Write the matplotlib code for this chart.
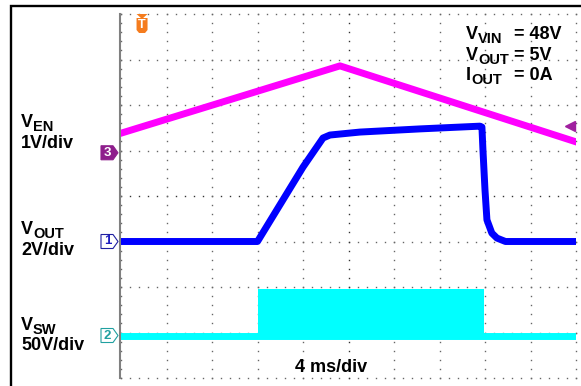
import matplotlib
matplotlib.use('Agg')
import matplotlib.pyplot as plt
import numpy as np
from matplotlib.patches import Polygon, Rectangle

plt.rcParams['font.family'] = ['Liberation Sans', 'DejaVu Sans']

W, H = 581, 386

# scope screen: 10 x 8 divisions, 4 ms/div
ms_per_div = 4
n_hdiv, n_vdiv = 10, 8

# CH3  V_EN, 1 V/div
en_t = [0, 19.25, 40]
en_v = [0.43, 1.91, 0.24]
en_scale, en_gnd = 1.0, 4.95
en_trig = 0.59

# CH1  V_OUT, 2 V/div
out_t = [0, 12.0, 16.0, 17.76, 18.37, 21.0, 26.3, 31.56, 31.73, 31.82, 32.0, 32.17, 32.6, 33.05, 33.8, 40]
out_v = [0, 0, 3.27, 4.55, 4.68, 4.81, 4.95, 5.07, 5.03, 4.02, 2.26, 0.95, 0.37, 0.15, 0, 0]
out_scale, out_gnd = 2.0, 3.0

# CH2  V_SW, 50 V/div (switching burst between on/off)
sw_on, sw_off = 12.0, 31.9
sw_high = 51.0
sw_scale, sw_gnd = 50.0, 0.934

trig_t = 1.85

px_t = ms_per_div / 45.5   # ms per pixel
px_v = 1 / 45.5            # div per pixel

fig = plt.figure(figsize=(W / 100, H / 100), dpi=100)
ax = fig.add_axes([121 / W, (H - 378) / H, 455 / W, 364 / H])
ax.set_xlim(0, n_hdiv * ms_per_div)
ax.set_ylim(0, n_vdiv)
ax.set_axis_off()

# outer frame
fig.add_artist(Rectangle((11 / W, -0.1), 2, 1.1 - 6 / H, transform=fig.transFigure,
                         fill=False, lw=1.7, ec='black'))

# dotted graticule
xs = np.arange(0, n_hdiv + 0.001, 0.2) * ms_per_div
ys = np.arange(0, n_vdiv + 0.001, 0.2)
for v in range(n_vdiv + 1):
    c = '#333333' if v == n_vdiv // 2 else '#666666'
    ax.plot(xs, [v] * len(xs), ls='none', marker='s', ms=1.0, mew=0, color=c, clip_on=False, zorder=1)
for d in range(n_hdiv + 1):
    c = '#333333' if d == n_hdiv // 2 else '#666666'
    ax.plot([d * ms_per_div] * len(ys), ys, ls='none', marker='s', ms=1.0, mew=0, color=c, clip_on=False, zorder=1)
ax.plot([-1.5 * px_t] * 2, [0, n_vdiv], color='#808080', lw=1.5, clip_on=False, zorder=2)

# traces
ax.plot(en_t, en_gnd + np.array(en_v) / en_scale, color='#FF00FF', lw=5, zorder=3)
ax.fill_between([sw_on, sw_off], sw_gnd, sw_gnd + sw_high / sw_scale, color='#00FFFF', lw=0, zorder=3)
ax.plot([0, n_hdiv * ms_per_div], [sw_gnd, sw_gnd], color='#00FFFF', lw=5, zorder=3)
ax.plot(out_t, out_gnd + np.array(out_v) / out_scale, color='#0000FF', lw=5, zorder=4,
        solid_joinstyle='round')

# trigger level arrow (CH3)
ax.plot([39.47], [en_gnd + en_trig / en_scale], marker='<', ms=6.5, color='#A0209F', clip_on=False, zorder=5)


def ch_marker(level, num, ec, fc, tc):
    x0, x1, x2 = -20 * px_t, -8 * px_t, -3 * px_t
    h = 7 * px_v
    pts = [(x0, level - h), (x1, level - h), (x2, level), (x1, level + h), (x0, level + h)]
    ax.add_patch(Polygon(pts, closed=True, fc=fc, ec=ec, lw=0.8, clip_on=False, zorder=5))
    ax.text(x0 + 6.5 * px_t, level, num, color=tc, fontsize=9.5, fontweight='bold',
            ha='center', va='center', clip_on=False, zorder=6)


ch_marker(en_gnd, '3', '#8E1E8C', '#8E1E8C', 'white')
ch_marker(out_gnd, '1', '#2020A0', 'white', '#2020C0')
ch_marker(sw_gnd, '2', '#20A0A0', 'white', '#20A0A0')

# trigger position marker
tx = trig_t
hw = 5.5 * px_t
top = n_vdiv
ax.add_patch(Polygon([(tx - hw, top), (tx + hw, top), (tx, top - 5 * px_v)], closed=True,
                     fc='#F57C1E', ec='none', clip_on=False, zorder=5))
ax.add_patch(Polygon([(tx - hw, top - 4 * px_v), (tx + hw, top - 4 * px_v), (tx + hw, top - 16 * px_v),
                      (tx + 3 * px_t, top - 19 * px_v), (tx - 3 * px_t, top - 19 * px_v), (tx - hw, top - 16 * px_v)],
                     closed=True, fc='#F57C1E', ec='none', clip_on=False, zorder=5))
ax.text(tx, top - 11.5 * px_v, 'T', color='white', fontsize=9, fontweight='bold',
        ha='center', va='center', zorder=6)


def label(x, y, main, sub=None, size=13, subsize=10.5):
    t = fig.text(x / W, 1 - y / H, main, fontsize=size, fontweight='bold', va='baseline', ha='left')
    if sub:
        ax.annotate(sub, xy=(1, 0), xycoords=t, fontsize=subsize, fontweight='bold',
                    va='baseline', ha='left', annotation_clip=False)


label(21, 127, 'V', 'EN')
label(21, 148, '1V/div')
label(21, 234, 'V', 'OUT')
label(21, 255, '2V/div')
label(21, 330, 'V', 'SW')
label(21, 350, '50V/div')
label(295, 372, '4 ms/div')

label(466, 39, 'V', 'VIN')
label(514, 39, '= 48V')
label(466, 60, 'V', 'OUT')
label(514, 60, '= 5V')
label(466, 80, 'I', 'OUT')
label(514, 80, '= 0A')

fig.savefig('out.png', dpi=100)
